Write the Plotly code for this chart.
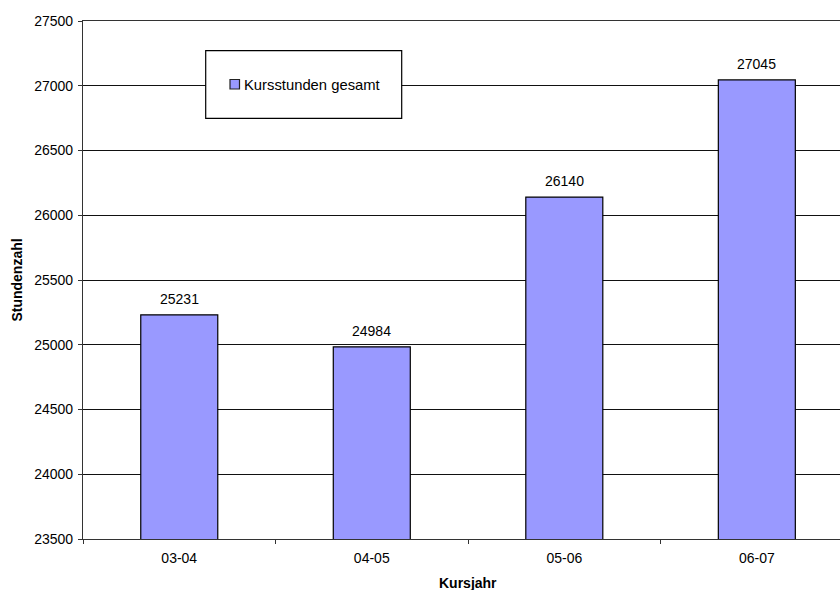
import plotly.graph_objects as go

# Course hours per course year
kursjahre = ["03-04", "04-05", "05-06", "06-07"]
kursstunden = [25231, 24984, 26140, 27045]
y_ticks = [23500, 24000, 24500, 25000, 25500, 26000, 26500, 27000, 27500]
series_name = "Kursstunden gesamt"

FONT = "Liberation Sans, Arial, sans-serif"
BAR_COLOR = "#9999FF"

fig = go.Figure()
fig.add_trace(go.Bar(
    x=kursjahre,
    y=kursstunden,
    name=series_name,
    marker=dict(color=BAR_COLOR, line=dict(color="black", width=1.2)),
    showlegend=False,
))

# value labels above each bar
for kj, v in zip(kursjahre, kursstunden):
    fig.add_annotation(
        x=kj, y=v, xref="x", yref="y", text=str(v), showarrow=False,
        yanchor="bottom", yshift=6, font=dict(family=FONT, size=14, color="black"),
    )

# x-axis title centred under the categories
fig.add_annotation(
    x=1.5, y=0, xref="x", yref="paper", text="<b>Kursjahr</b>", showarrow=False,
    yanchor="middle", yshift=-44, font=dict(family=FONT, size=14, color="black"),
)

# legend: frame, colour key and label (plot area spans 83..840 px wide, 21..539 px tall)
def px_x(p):
    return (p - 83) / 757.0

def px_y(q):
    return (539 - q) / 518.0

fig.add_shape(
    type="rect", xref="paper", yref="paper",
    x0=px_x(205.7), x1=px_x(401.7), y0=px_y(118.3), y1=px_y(50.7),
    line=dict(color="black", width=1.2), fillcolor="white", layer="above",
)
fig.add_shape(
    type="rect", xref="paper", yref="paper",
    x0=px_x(230), x1=px_x(239.5), y0=px_y(89), y1=px_y(79.5),
    line=dict(color="#222", width=1.2), fillcolor=BAR_COLOR, layer="above",
)
fig.add_annotation(
    x=px_x(242), y=px_y(85), xref="paper", yref="paper", text=series_name,
    showarrow=False, xanchor="left", yanchor="middle",
    font=dict(family=FONT, size=14.8, color="black"),
)

fig.update_layout(
    width=840, height=590,
    margin=dict(l=83, r=0, t=21, b=51),
    paper_bgcolor="white", plot_bgcolor="white",
    font=dict(family=FONT, size=14, color="black"),
    bargap=0.6,
    showlegend=False,
    xaxis=dict(
        type="category",
        range=[-0.5, 3.432],
        showline=True, linecolor="#333", linewidth=1.2, mirror=True,
        ticks="outside", ticklen=4, tickcolor="#333", tickson="boundaries",
        showgrid=False, zeroline=False,
        tickfont=dict(family=FONT, size=14),
        ticklabelstandoff=6,
    ),
    yaxis=dict(
        range=[23500, 27500],
        tickvals=y_ticks, ticktext=[str(t) for t in y_ticks],
        showline=True, linecolor="#333", linewidth=1.2,
        ticks="outside", ticklen=4, tickcolor="#333",
        showgrid=True, gridcolor="#111", gridwidth=1,
        zeroline=False,
        tickfont=dict(family=FONT, size=14),
        ticklabelstandoff=2,
        title=dict(text="<b>Stundenzahl</b>", font=dict(family=FONT, size=14), standoff=8),
    ),
)

fig.write_html("out.html")
